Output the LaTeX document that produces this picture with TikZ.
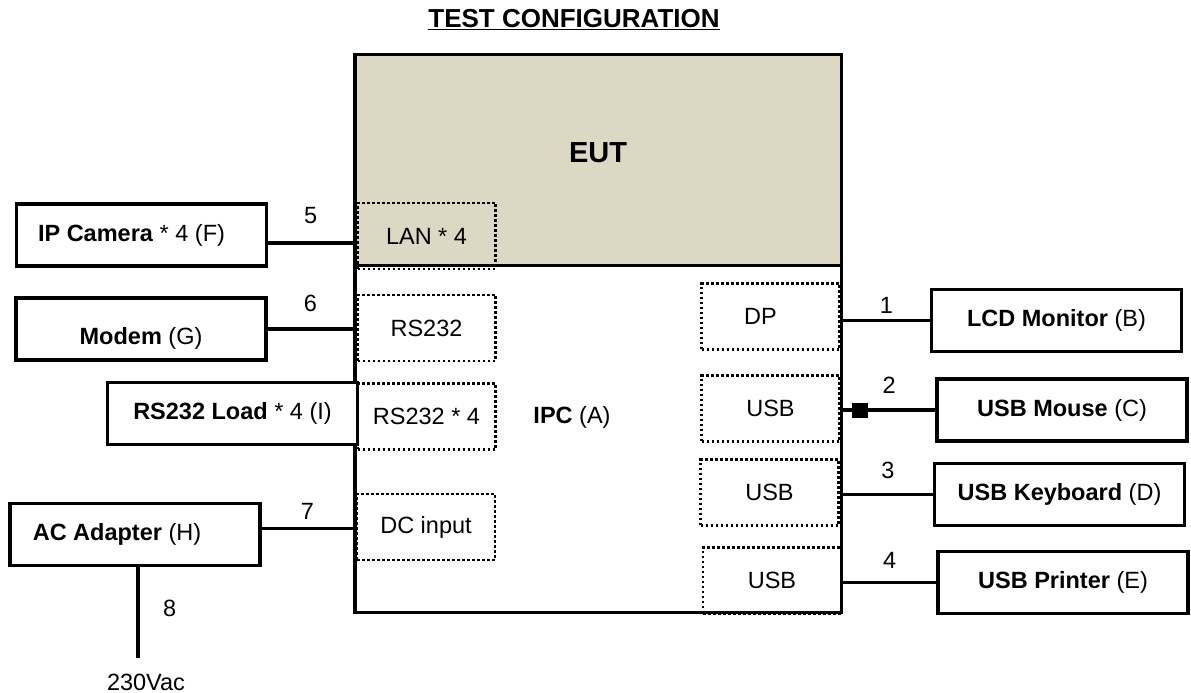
\documentclass[tikz,border=0pt]{standalone}
\usepackage{fontspec}
\setmainfont{Liberation Sans}
\definecolor{euttan}{HTML}{DCD8C3}
\usetikzlibrary{positioning}

\begin{document}
\begin{tikzpicture}[x=1pt,y=-1pt,
    every node/.style={font=\fontsize{23.5}{28}\selectfont},
    unit/.style={draw,line width=3.5pt,fill=white,minimum width=250pt,minimum height=62pt,inner sep=0pt},
    port/.style={draw,line width=2.8pt,dash pattern=on 2.8pt off 2.2pt,minimum width=138pt,minimum height=66pt,inner sep=0pt},
    wire/.style={line width=3.2pt},
    num/.style={inner sep=0pt}]
  \useasboundingbox (0,0) rectangle (1191,693);
  \node[font=\fontsize{26}{30}\selectfont\bfseries] (title) at (574,20) {\underline{TEST CONFIGURATION}};

  % EUT and IPC housing
  \node[draw,line width=3.5pt,fill=euttan,minimum width=486.5pt,minimum height=210.5pt,
        text depth=14pt,font=\fontsize{29}{33}\selectfont\bfseries] (eut) at (598,160) {EUT};
  \node[draw,line width=3.5pt,minimum width=486.5pt,minimum height=347pt] (ipc) at (598,438.75) {};
  \node (ipclabel) at (572,417) {\textbf{IPC} (A)};

  % ports
  \node[port] (lan) at (426.5,236) {LAN * 4};
  \node[port] (rs) at (426.5,328) {RS232};
  \node[port] (rsx) at (426.5,416.5) {RS232 * 4};
  \node[port] (dcin) at (426,527) {DC input};
  \node[port] (dp) at (770.5,316.5) {DP\hspace*{20pt}};
  \node[port] (usba) at (770.5,408.5) {USB};
  \node[port] (usbb) at (769.5,492.5) {USB};
  \node[port] (usbc) at (772,580.5) {USB};

  % peripherals
  \node[unit] (cam) at (141.5,235) {\textbf{IP Camera} * 4 (F)\hspace*{20pt}};
  \node[unit,text height=35pt] (modem) at (141,329) {\textbf{Modem} (G)};
  \node[unit] (load) at (232.5,413.5) {\textbf{RS232 Load} * 4 (I)};
  \node[unit] (adapter) at (135,534.5) {\textbf{AC Adapter} (H)\hspace*{36pt}};
  \node[unit] (lcd) at (1056.5,320.5) {\textbf{LCD Monitor} (B)};
  \node[unit] (mouse) at (1062,410) {\textbf{USB Mouse} (C)};
  \node[unit] (kbd) at (1059.5,494.5) {\textbf{USB Keyboard} (D)};
  \node[unit] (printer) at (1063,582.5) {\textbf{USB Printer} (E)};

  % cables
  \draw[wire] ([yshift=-8pt]cam.east) -- ([yshift=-8pt]cam.east -| eut.west)
    node[num,midway,above=17.5pt]{5};
  \draw[wire] (modem.east) -- (modem.east -| ipc.west) node[num,midway,above=15.5pt]{6};
  \draw[wire] ([yshift=6pt]adapter.east) -- ([yshift=6pt]adapter.east -| ipc.west)
    node[num,midway,above=7.5pt]{7};
  \draw[wire] (lcd.west) -- (lcd.west -| ipc.east) node[num,midway,above=5.5pt]{1};
  \draw[wire] (mouse.west) -- (mouse.west -| ipc.east) node[num,midway,above=14.5pt]{2};
  \node[fill,minimum width=16pt,minimum height=15pt,inner sep=0pt] (core)
    at ([xshift=17pt]mouse.west -| ipc.east) {};
  \draw[wire] (kbd.west) -- (kbd.west -| ipc.east) node[num,midway,above=14.5pt]{3};
  \draw[wire] (printer.west) -- (printer.west -| ipc.east) node[num,midway,above=12.5pt]{4};

  \coordinate (mains) at (138,658);
  \draw[wire] (adapter.south -| mains) -- (mains) node[num,pos=0.45,right=23.5pt]{8};
  \node (vac) at (146,682) {230Vac};
\end{tikzpicture}
\end{document}
